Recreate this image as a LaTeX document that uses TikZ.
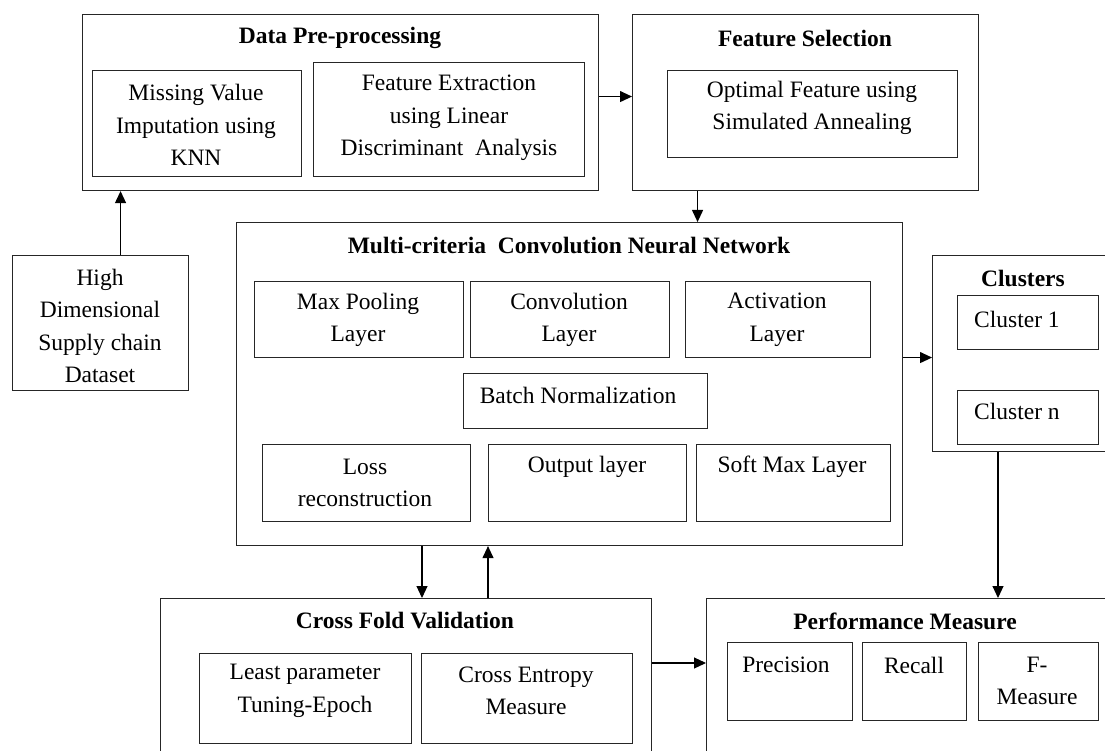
\documentclass[tikz,border=0pt]{standalone}
\usepackage{fontspec}
\setmainfont{Liberation Serif}
\usetikzlibrary{arrows.meta}
\begin{document}
\begin{tikzpicture}[x=1pt,y=-1pt,
  box/.style={draw=black!85, line width=1.1pt, anchor=north west, inner sep=0pt},
  txt/.style={font=\fontsize{23.5}{32.5}\selectfont, align=center, inner sep=0pt},
  ttl/.style={font=\fontsize{23.5}{32.5}\selectfont\bfseries, inner sep=0pt},
  arr/.style={draw=black, line width=1.1pt, -{Triangle[length=12pt,width=11pt]}}]

\useasboundingbox (0,0) rectangle (1105,751);
\clip (0,0) rectangle (1105,751);
\fill[white] (0,0) rectangle (1105,751);

% Data pre-processing
\node[box, minimum width=516pt, minimum height=176pt] (dp) at (82,14) {};
\node[ttl] (dpT) at (340,38) {Data Pre-processing};
\node[box, minimum width=209pt, minimum height=106pt] (mvB) at (92,70) {};
\node[txt] (mv) at (196,125) {Missing Value\\Imputation using\\KNN};
\node[box, minimum width=271pt, minimum height=114pt] (feB) at (313,62) {};
\node[txt] (fe) at (449,118) {Feature Extraction\\using Linear\\Discriminant\ \ Analysis};

% Feature selection
\node[box, minimum width=346pt, minimum height=176pt] (fs) at (632,14) {};
\node[ttl] (fsT) at (805,38) {Feature Selection};
\node[box, minimum width=290pt, minimum height=87pt] (ofB) at (667,70) {};
\node[txt] (of) at (812,108) {Optimal Feature using\\Simulated Annealing};

% Input dataset
\node[box, minimum width=176pt, minimum height=135pt] (hd) at (12,255) {};
\node[txt] (hdT) at (100,326) {High\\Dimensional\\Supply chain\\Dataset};

% Multi-criteria CNN
\node[box, minimum width=666pt, minimum height=323pt] (mc) at (236,222) {};
\node[ttl] (mcT) at (569,245) {Multi-criteria\ \ Convolution Neural Network};
\node[box, minimum width=209pt, minimum height=76pt] (mpB) at (254,281) {};
\node[txt] (mp) at (358,320) {Max Pooling\\Layer};
\node[box, minimum width=199pt, minimum height=76pt] (cvB) at (470,281) {};
\node[txt] (cv) at (569,320) {Convolution\\Layer};
\node[box, minimum width=185pt, minimum height=76pt] (acB) at (685,281) {};
\node[txt] (ac) at (777,320) {Activation\\Layer};
\node[box, minimum width=244pt, minimum height=55pt] (bnB) at (463,373) {};
\node[txt] (bn) at (578,395) {Batch Normalization};
\node[box, minimum width=208pt, minimum height=77pt] (lrB) at (262,444) {};
\node[txt] (lr) at (365,483) {Loss\\reconstruction};
\node[box, minimum width=198pt, minimum height=77pt] (olB) at (488,444) {};
\node[txt] (ol) at (587,467) {Output layer};
\node[box, minimum width=194pt, minimum height=77pt] (smB) at (696,444) {};
\node[txt] (sm) at (792,467) {Soft Max Layer};

% Clusters
\node[box, minimum width=183pt, minimum height=196pt] (cl) at (932,255) {};
\node[ttl] (clT) at (1023,278) {Clusters};
\node[box, minimum width=141pt, minimum height=54pt] (c1B) at (957,295) {};
\node[txt, anchor=west] (c1) at (974,319) {Cluster 1};
\node[box, minimum width=141pt, minimum height=54pt] (cnB) at (957,390) {};
\node[txt, anchor=west] (cn) at (974,411) {Cluster n};

% Cross fold validation
\node[box, minimum width=491pt, minimum height=170pt] (cf) at (160,598) {};
\node[ttl] (cfT) at (405,621) {Cross Fold Validation};
\node[box, minimum width=212pt, minimum height=90pt] (lpB) at (199,653) {};
\node[txt] (lp) at (305,691) {Least parameter\\Tuning-Epoch};
\node[box, minimum width=211pt, minimum height=90pt] (ceB) at (421,653) {};
\node[txt] (ce) at (526,691) {Cross Entropy\\Measure};

% Performance measure
\node[box, minimum width=409pt, minimum height=170pt] (pm) at (706,598) {};
\node[ttl] (pmT) at (905,621) {Performance Measure};
\node[box, minimum width=125pt, minimum height=78pt] (prB) at (727,642) {};
\node[txt] (pr) at (786,665) {Precision};
\node[box, minimum width=104pt, minimum height=78pt] (rcB) at (862,642) {};
\node[txt] (rc) at (914,665) {Recall};
\node[box, minimum width=120pt, minimum height=78pt] (fmB) at (978,642) {};
\node[txt] (fm) at (1037,681) {F-\\Measure};

% Connectors
\draw[arr] ([xshift=20pt]hd.north) -- ([xshift=20pt]hd.north |- dp.south);
\draw[arr] ([yshift=6pt]dp.east) -- ([yshift=6pt]fs.west);
\draw[arr] ([xshift=-108pt]fs.south) -- ([xshift=-108pt]fs.south |- mc.north);
\draw[arr] ([yshift=-4pt]cl.west -| mc.east) -- ([yshift=-4pt]cl.west);
\draw[arr] ([xshift=66pt]cl.south west) -- ([xshift=66pt]cl.south west |- pm.north);
\draw[arr] ([xshift=186pt]mc.south west) -- ([xshift=186pt]mc.south west |- cf.north);
\draw[arr] ([xshift=252pt]mc.south west |- cf.north) -- ([xshift=252pt]mc.south west);
\draw[arr] ([yshift=-65pt]cf.north east) -- ([yshift=-65pt]cf.north east -| pm.west);
\end{tikzpicture}
\end{document}
